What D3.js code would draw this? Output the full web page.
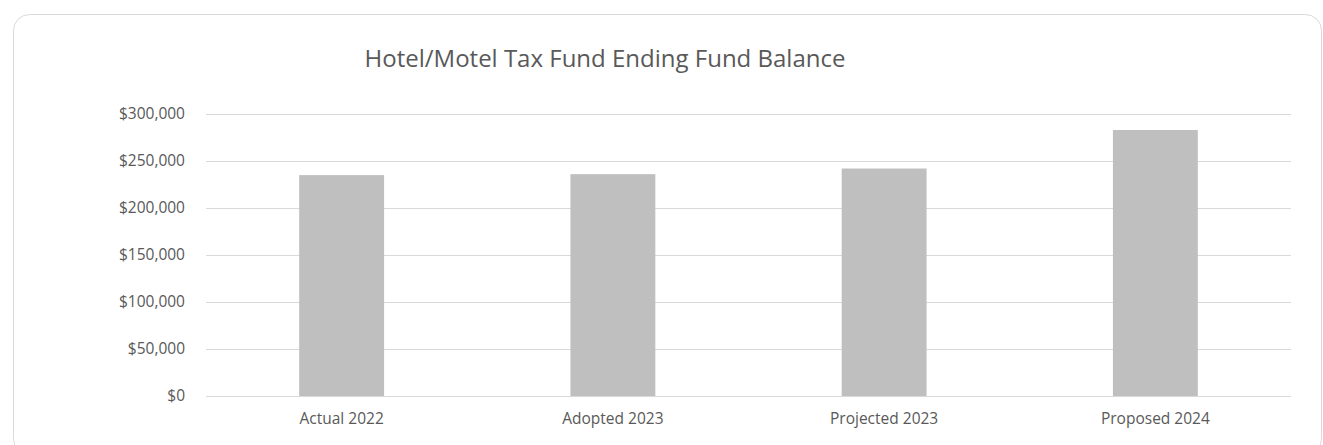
<!DOCTYPE html>
<html>
<head>
<meta charset="utf-8">
<script src="https://cdn.jsdelivr.net/npm/d3@7"></script>
<style>
  html, body { margin: 0; padding: 0; background: #fff; }
  svg { display: block; font-family: "Open Sans", "Liberation Sans", sans-serif; }
</style>
</head>
<body>
<svg id="chart" width="1323" height="445"></svg>
<script>
// Ending fund balance by budget stage
const categories = ["Actual 2022", "Adopted 2023", "Projected 2023", "Proposed 2024"];
const balances = [235000, 236000, 242000, 283000];
const yTicks = [0, 50000, 100000, 150000, 200000, 250000, 300000];
const chartTitle = "Hotel/Motel Tax Fund Ending Fund Balance";

const svg = d3.select("#chart");
const W = 1323, H = 445;
const margin = { left: 206, right: 32, top: 114, bottom: 49 };
const plotW = W - margin.left - margin.right;
const plotH = H - margin.top - margin.bottom;

// Outer frame with rounded corners
svg.append("rect")
  .attr("x", 13.5).attr("y", 14.5)
  .attr("width", 1308).attr("height", 440)
  .attr("rx", 16).attr("ry", 16)
  .attr("fill", "#fff")
  .attr("stroke", "#d9d9d9")
  .attr("stroke-width", 1);

const g = svg.append("g").attr("transform", `translate(${margin.left},${margin.top})`);

const x = d3.scaleBand()
  .domain(categories)
  .range([0, plotW])
  .paddingInner(0.687)
  .paddingOuter(0.3435);

const y = d3.scaleLinear()
  .domain([0, 300000])
  .range([plotH, 0]);

// Horizontal gridlines
g.append("g")
  .selectAll("line")
  .data(yTicks)
  .join("line")
  .attr("x1", 0).attr("x2", plotW)
  .attr("y1", d => Math.round(y(d)) + 0.5)
  .attr("y2", d => Math.round(y(d)) + 0.5)
  .attr("stroke", "#d9d9d9")
  .attr("stroke-width", 1);

// Bars
g.append("g")
  .selectAll("rect")
  .data(balances)
  .join("rect")
  .attr("x", (d, i) => x(categories[i]))
  .attr("width", x.bandwidth())
  .attr("y", d => y(d))
  .attr("height", d => plotH - y(d))
  .attr("fill", "#bfbfbf");

// Baseline redrawn above the bars
g.append("line")
  .attr("x1", 0).attr("x2", plotW)
  .attr("y1", Math.round(y(0)) + 0.5).attr("y2", Math.round(y(0)) + 0.5)
  .attr("stroke", "#d9d9d9");

// Y axis labels
const fmt = d3.format("$,.0f");
const yAxis = d3.axisLeft(y).tickValues(yTicks).tickFormat(fmt).tickSize(0).tickPadding(21);
const ya = g.append("g").call(yAxis);
ya.select(".domain").remove();
ya.selectAll("text")
  .attr("fill", "#595959")
  .style("font-size", "15.5px")
  .style("font-family", "'Open Sans', sans-serif");

// X axis labels
const xAxis = d3.axisBottom(x).tickSize(0).tickPadding(17);
const xa = g.append("g").attr("transform", `translate(0,${plotH})`).call(xAxis);
xa.select(".domain").remove();
xa.selectAll("text")
  .attr("fill", "#595959")
  .style("font-size", "15.5px")
  .style("font-family", "'Open Sans', sans-serif");

// Title
svg.append("text")
  .attr("x", 605)
  .attr("y", 67)
  .attr("text-anchor", "middle")
  .attr("fill", "#595959")
  .style("font-size", "24px")
  .text(chartTitle);
</script>
</body>
</html>
